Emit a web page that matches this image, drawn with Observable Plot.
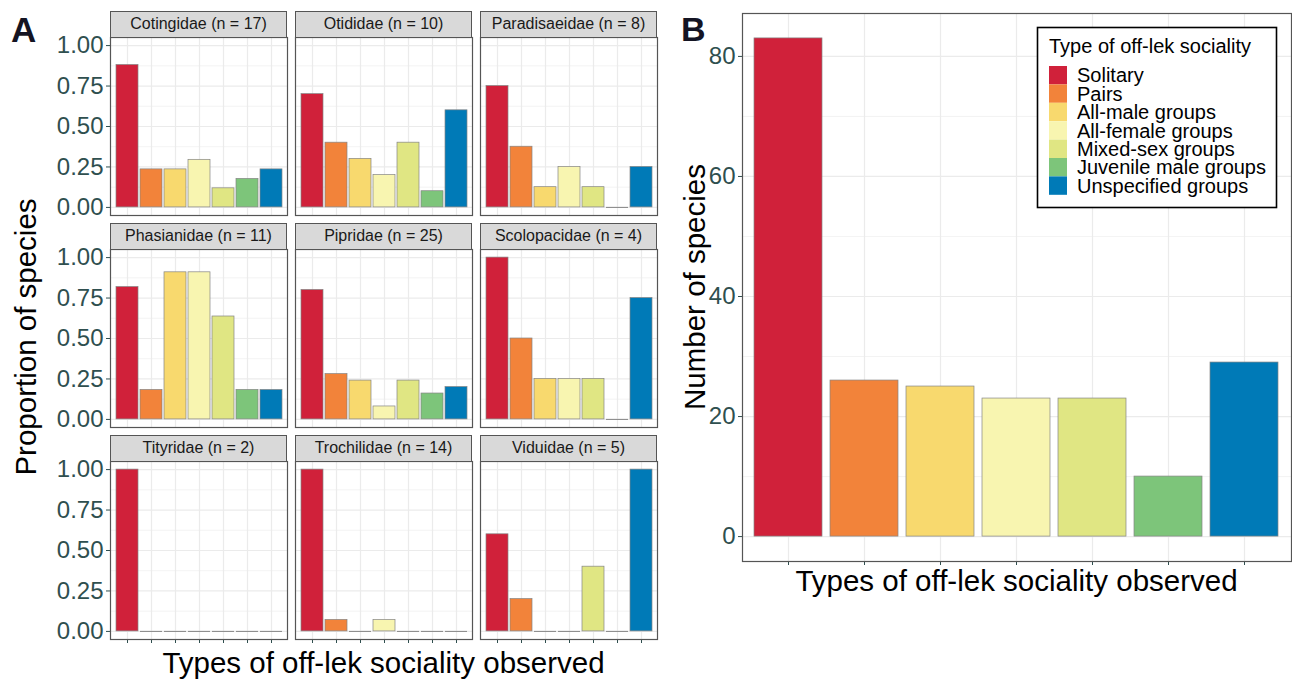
<!DOCTYPE html>
<html>
<head>
<meta charset="utf-8">
<script src="https://cdn.jsdelivr.net/npm/d3@7"></script>
<script src="https://cdn.jsdelivr.net/npm/@observablehq/plot@0.6"></script>
<style>
  html, body { margin: 0; padding: 0; background: #fff; }
  #root { position: relative; width: 1292px; height: 681px; overflow: hidden; font-family: "Liberation Sans", Arial, sans-serif; }
  #root > svg, #root > .pw { position: absolute; }
  .pa text, .pb text { font-size: 24px !important; fill: #2F4F4F; font-family: "Liberation Sans", Arial, sans-serif; }
  .strip { position: absolute; box-sizing: border-box; background: #D9D9D9; border: 1px solid #555; font-size: 16px; color: #1a1a1a; text-align: center; line-height: 24px; white-space: nowrap; }
</style>
</head>
<body>
<div id="root"></div>
<script>
// ---------- data ----------
const categories = ["Solitary", "Pairs", "All-male groups", "All-female groups", "Mixed-sex groups", "Juvenile male groups", "Unspecified groups"];
const colors = ["#D0213A", "#F2833A", "#F8D96E", "#F8F5B0", "#E0E683", "#7DC57A", "#007AB7"];

const families = ["Cotingidae", "Otididae", "Paradisaeidae", "Phasianidae", "Pipridae", "Scolopacidae", "Tityridae", "Trochilidae", "Viduidae"];
const familyN = [17, 10, 8, 11, 25, 4, 2, 14, 5];

const cotingidae    = [0.88, 0.235, 0.235, 0.294, 0.118, 0.176, 0.235];
const otididae      = [0.70, 0.40, 0.30, 0.20, 0.40, 0.10, 0.60];
const paradisaeidae = [0.75, 0.375, 0.125, 0.25, 0.125, 0, 0.25];
const phasianidae   = [0.818, 0.182, 0.909, 0.909, 0.636, 0.182, 0.182];
const pipridae      = [0.80, 0.28, 0.24, 0.08, 0.24, 0.16, 0.20];
const scolopacidae  = [1.00, 0.50, 0.25, 0.25, 0.25, 0, 0.75];
const tityridae     = [1.00, 0, 0, 0, 0, 0, 0];
const trochilidae   = [1.00, 0.071, 0, 0.071, 0, 0, 0];
const viduidae      = [0.60, 0.20, 0, 0, 0.40, 0, 1.00];
const proportions = [cotingidae, otididae, paradisaeidae, phasianidae, pipridae, scolopacidae, tityridae, trochilidae, viduidae];

const totalSpecies = [83, 26, 25, 23, 23, 10, 29];

const propTicks = [0, 0.25, 0.5, 0.75, 1];
const propMinor = [0.125, 0.375, 0.625, 0.875];
const countTicks = [0, 20, 40, 60, 80];
const countMinor = [10, 30, 50, 70];

const yTitleA = "Proportion of species";
const yTitleB = "Number of species";
const xTitle = "Types of off-lek sociality observed";
const legendTitle = "Type of off-lek sociality";

// ---------- layout ----------
const root = document.getElementById("root");
const panelLefts = [110, 295, 480];
const panelW = 177;
const stripTops = [11, 223, 435];
const stripH = 26;
const panelH = 178;
const gridCol = "#EBEBEB";
const barStroke = "#858585";
const color = {domain: categories, range: colors};

families.forEach((fam, i) => {
  const col = i % 3, row = Math.floor(i / 3);
  const data = categories.map((c, j) => ({cat: c, v: proportions[i][j]}));
  const mL = col === 0 ? 110 : 2, mR = 2, mT = 2, mB = row === 2 ? 10 : 2;
  const plot = Plot.plot({
    className: "pa",
    width: mL + panelW + mR,
    height: mT + panelH + mB,
    marginLeft: mL, marginRight: mR, marginTop: mT, marginBottom: mB,
    style: {background: "transparent", overflow: "visible", color: "#2F4F4F"},
    x: {type: "band", domain: categories, paddingInner: 0.1, paddingOuter: 0.15,
        axis: row === 2 ? "bottom" : null, tickSize: 4, tickPadding: 0, tickFormat: () => "", label: null},
    y: {domain: [-0.05, 1.05], ticks: propTicks, tickFormat: d3.format(".2f"),
        axis: col === 0 ? "left" : null, tickSize: 4, tickPadding: 3, label: null},
    color,
    marks: [
      Plot.ruleY(propMinor, {stroke: gridCol, strokeWidth: 0.6}),
      Plot.ruleY(propTicks, {stroke: gridCol, strokeWidth: 1.2}),
      Plot.ruleX(categories, {x: d => d, stroke: gridCol, strokeWidth: 1.2}),
      Plot.barY(data.filter(d => d.v > 0), {x: "cat", y: "v", fill: "cat", stroke: barStroke, strokeWidth: 0.7}),
      Plot.tickY(data.filter(d => d.v === 0), {x: "cat", y: "v", stroke: barStroke, strokeWidth: 1}),
      Plot.frame({stroke: "#555", strokeWidth: 1.2})
    ]
  });
  plot.style.position = "absolute";
  plot.style.left = (panelLefts[col] - mL) + "px";
  plot.style.top = (stripTops[row] + stripH - mT) + "px";
  root.appendChild(plot);

  const strip = document.createElement("div");
  strip.className = "strip";
  strip.style.left = panelLefts[col] + "px";
  strip.style.top = stripTops[row] + "px";
  strip.style.width = panelW + "px";
  strip.style.height = (stripH + 1) + "px";
  strip.textContent = `${fam} (n = ${familyN[i]})`;
  root.appendChild(strip);
});

// ---------- panel B ----------
const dataB = categories.map((c, j) => ({cat: c, v: totalSpecies[j]}));
const plotB = Plot.plot({
  className: "pb",
  width: 632, height: 571,
  marginLeft: 82, marginRight: 1, marginTop: 13, marginBottom: 10,
  style: {background: "transparent", overflow: "visible", color: "#2F4F4F"},
  x: {type: "band", domain: categories, paddingInner: 0.1, paddingOuter: 0.15,
      tickSize: 4, tickPadding: 0, tickFormat: () => "", label: null},
  y: {domain: [-4.15, 87.15], ticks: countTicks, tickFormat: d3.format("d"), tickSize: 4, tickPadding: 3, label: null},
  color,
  marks: [
    Plot.ruleY(countMinor, {stroke: gridCol, strokeWidth: 0.6}),
    Plot.ruleY(countTicks, {stroke: gridCol, strokeWidth: 1.2}),
    Plot.ruleX(categories, {x: d => d, stroke: gridCol, strokeWidth: 1.2}),
    Plot.barY(dataB, {x: "cat", y: "v", fill: "cat", stroke: barStroke, strokeWidth: 0.7}),
    Plot.frame({stroke: "#555", strokeWidth: 1.2})
  ]
});
plotB.style.position = "absolute";
plotB.style.left = "660px";
plotB.style.top = "0px";
root.appendChild(plotB);

// ---------- titles & legend overlay ----------
const ns = "http://www.w3.org/2000/svg";
const ov = document.createElementNS(ns, "svg");
ov.setAttribute("width", 1292);
ov.setAttribute("height", 681);
ov.style.position = "absolute";
ov.style.left = "0px";
ov.style.top = "0px";
ov.style.pointerEvents = "none";
ov.style.fontFamily = '"Liberation Sans", Arial, sans-serif';
root.appendChild(ov);

function txt(s, x, y, opts = {}) {
  const t = document.createElementNS(ns, "text");
  t.setAttribute("x", x);
  t.setAttribute("y", y);
  t.setAttribute("font-size", opts.size || 29.5);
  t.setAttribute("fill", opts.fill || "#000");
  if (opts.anchor) t.setAttribute("text-anchor", opts.anchor);
  if (opts.weight) t.setAttribute("font-weight", opts.weight);
  if (opts.rotate) t.setAttribute("transform", `rotate(-90 ${x} ${y})`);
  t.textContent = s;
  ov.appendChild(t);
  return t;
}
txt("A", 11, 42, {size: 35, weight: "bold", fill: "#141423"});
txt("B", 681, 41, {size: 34, weight: "bold", fill: "#141423"});
txt(yTitleA, 36, 337, {anchor: "middle", rotate: true});
txt(xTitle, 383.5, 673, {anchor: "middle"});
txt(yTitleB, 705, 287, {anchor: "middle", rotate: true});
txt(xTitle, 1016.5, 591, {anchor: "middle"});

// legend
const lg = document.createElementNS(ns, "rect");
lg.setAttribute("x", 1037.5); lg.setAttribute("y", 27.5);
lg.setAttribute("width", 239); lg.setAttribute("height", 180);
lg.setAttribute("fill", "#fff"); lg.setAttribute("stroke", "#000"); lg.setAttribute("stroke-width", 1.6);
ov.appendChild(lg);
txt(legendTitle, 1049, 53, {size: 20});
const keyH = 18.4;
categories.forEach((c, i) => {
  const r = document.createElementNS(ns, "rect");
  r.setAttribute("x", 1049); r.setAttribute("y", 66 + i * keyH);
  r.setAttribute("width", 18); r.setAttribute("height", keyH);
  r.setAttribute("fill", colors[i]);
  ov.appendChild(r);
  txt(c, 1077, 66 + (i + 1) * keyH - 2, {size: 20});
});
</script>
</body>
</html>
